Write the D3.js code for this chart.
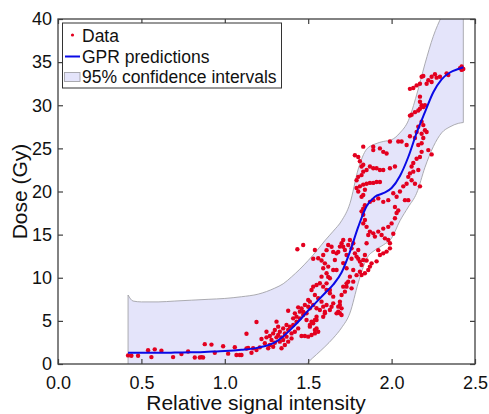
<!DOCTYPE html>
<html>
<head>
<meta charset="utf-8">
<script src="https://cdn.jsdelivr.net/npm/d3@7"></script>
<style>
	body { margin: 0; background: #fff; }
	svg { display: block; font-family: "Liberation Sans", Arial, Helvetica, sans-serif; }
</style>
</head>
<body>
<div id="svg_goes_here"></div>
<script>
//Grid the GPR fit is read on, with its mean and 95% limits
var grid_x = [0.42,0.45,0.5,0.6,0.7,0.8,0.9,1.0,1.1,1.2,1.3,1.35,1.4,1.45,1.5,1.55,1.6,1.65,1.7,1.75,1.8,1.85,1.9,1.95,2.0,2.05,2.1,2.15,2.2,2.25,2.3,2.35,2.4,2.43];
var gpr_mean = [1.3,1.3,1.3,1.3,1.32,1.35,1.42,1.5,1.65,1.9,2.5,3.2,4.1,5.1,6.2,7.2,8.2,9.2,10.6,13.0,15.9,18.3,19.4,19.8,20.4,21.8,24.0,26.8,29.2,31.5,33.0,33.8,34.2,34.4];
var ci_upper = [8.0,7.3,7.2,7.2,7.3,7.4,7.5,7.6,7.8,8.1,8.8,9.3,10.1,11.0,12.0,13.1,14.3,15.4,16.6,18.6,22.6,24.9,25.5,25.8,26.0,26.8,28.2,31.2,34.8,38.0,40.3,42.0,43.0,43.5];
var ci_lower = [-5.4,-4.7,-4.6,-4.6,-4.7,-4.7,-4.7,-4.6,-4.5,-4.3,-4.0,-3.3,-2.2,-1.0,0.2,1.1,2.0,3.0,4.2,5.9,9.4,12.2,13.2,13.8,14.6,16.6,18.2,19.8,22.8,25.2,26.8,27.5,27.9,28.0];

//Measured points: [relative signal intensity, dose]
var data_points = [
	[0.42,1.0],[0.44,0.95],[0.48,0.95],[0.54,1.6],[0.56,0.8],[0.58,1.7],[0.62,1.55],[0.69,0.8],[0.74,1.15],[0.78,1.45],
	[0.82,0.75],[0.85,0.75],[0.86,0.8],[0.87,0.75],[0.88,2.3],[0.92,2.25],[0.94,1.3],[0.99,2.05],[1.02,1.2],[1.06,1.95],
	[1.07,1.05],[1.09,1.05],[1.10,1.05],[1.13,3.5],[1.13,1.8],
	[1.14,1.85],[1.16,1.31],[1.17,1.82],[1.19,4.87],[1.19,1.62],[1.21,1.93],[1.22,2.9],[1.24,2.4],[1.25,3.74],[1.25,3.09],
	[1.26,1.82],[1.27,3.25],[1.27,2.2],[1.28,2.78],[1.29,2.0],[1.29,3.55],[1.30,2.47],[1.30,3.94],[1.31,3.09],[1.31,4.91],
	[1.32,4.33],[1.32,3.36],[1.33,2.59],[1.33,3.74],[1.34,3.09],[1.34,1.82],[1.35,4.13],[1.35,2.78],[1.36,3.55],[1.36,2.2],
	[1.37,4.52],[1.37,3.17],[1.38,3.94],[1.38,6.18],[1.38,2.59],[1.39,4.33],[1.40,3.55],[1.40,2.97],[1.41,5.29],[1.41,4.52],
	[1.42,3.74],[1.42,5.87],[1.43,4.91],[1.43,5.49],[1.44,6.57],[1.44,4.13],[1.45,6.07],[1.45,5.29],[1.46,3.25],[1.46,6.45],
	[1.47,5.68],[1.47,6.07],[1.48,3.25],[1.48,6.84],[1.49,5.1],[1.49,5.87],[1.50,7.42],[1.50,3.17],[1.51,6.45],
	[1.54,13.22],[1.56,12.26],[1.59,12.64],[1.60,11.67],[1.62,11.29],[1.61,10.52],[1.58,10.13],[1.63,9.94],[1.65,10.9],[1.66,12.06],
	[1.67,12.83],[1.69,13.61],[1.70,14.0],[1.71,14.38],[1.72,13.22],[1.73,12.64],[1.74,13.8],[1.75,14.38],[1.76,13.41],[1.77,14.0],
	[1.78,12.83],[1.79,12.45],[1.80,13.22],[1.81,11.87],[1.82,11.48],[1.83,12.06],[1.84,12.64],[1.85,14.0],[1.86,14.96],[1.87,15.35],
	[1.89,15.15],[1.90,14.77],[1.92,15.35],[1.94,14.96],[1.96,14.57],[1.98,14.38],[1.99,14.0],[1.99,13.41],[1.97,13.03],[1.95,12.83],
	[1.93,12.64],[1.88,11.67],[1.87,11.29],[1.86,10.9],[1.84,10.52],[1.82,10.32],[1.75,10.13],[1.74,9.55],[1.73,8.97],[1.72,8.39],
	[1.70,8.0],[1.69,7.23],[1.68,6.65],[1.69,5.88],[1.70,5.68],[1.65,7.81],[1.63,8.2],[1.61,8.58],[1.59,8.97],[1.57,9.36],
	[1.55,9.16],[1.53,8.97],[1.52,8.58],[1.54,8.0],[1.56,7.62],[1.58,7.23],[1.59,6.65],[1.61,6.84],[1.63,6.26],[1.60,6.07],
	[1.57,6.26],[1.55,6.46],[1.53,6.84],[1.51,7.23],[1.50,6.65],[1.51,4.33],[1.53,4.72],[1.55,5.1],[1.54,3.95],[1.52,3.37],
	[1.435,13.3],[1.47,13.8],
	[1.61,9.35],[1.63,8.58],[1.71,8.97],[1.73,9.35],[1.76,8.77],[1.77,9.55],[1.69,6.84],[1.70,6.45],[1.68,6.07],[1.67,5.87],
	[1.65,7.03],[1.64,6.64],[1.60,5.87],[1.59,5.48],[1.55,5.48],[1.54,5.10],[1.52,4.90],[1.51,4.52],[1.55,4.13],[1.56,3.74],[1.54,3.55],
	[1.53,12.2],[1.58,12.0],[1.61,13.2],[1.62,13.8],[1.64,13.6],[1.65,13.0],[1.68,13.0],[1.71,13.6],[1.76,12.2],[1.80,12.2],
	[1.85,12.0],[1.59,11.1],[1.62,10.1],[1.67,10.9],[1.71,11.7],[1.73,11.1],[1.77,10.9],[1.79,10.3],[1.81,10.7],[1.92,13.2],[1.91,11.9],
	[1.83,25.2],[1.89,25.2],[1.89,24.8],[1.93,25.0],[1.95,24.6],[1.97,24.4],[1.99,25.8],[2.04,25.8],[2.06,25.8],[2.09,25.4],
	[2.11,26.4],[2.14,26.2],[2.16,25.4],[2.18,25.6],[2.19,26.2],[2.21,26.9],[2.22,24.8],[2.24,24.3],[2.18,24.6],[2.17,24.0],
	[2.15,23.8],[2.13,23.3],[2.12,22.9],[2.16,22.5],[2.13,22.3],[2.11,22.1],[2.10,21.7],[2.12,21.3],[2.14,20.9],[2.17,20.6],
	[2.09,20.9],[2.07,20.6],[2.05,20.0],[2.08,19.0],[2.10,19.0],[2.03,19.4],[2.01,19.8],[1.98,19.0],[1.95,18.8],[1.92,19.2],
	[1.89,19.0],[1.87,18.8],[1.84,20.2],[1.83,19.6],[1.82,19.4],[1.80,20.0],[1.79,20.4],[1.81,20.6],[1.83,20.8],[1.85,20.9],
	[1.87,21.0],[1.89,21.0],[1.91,21.1],[1.93,21.1],[1.82,21.9],[1.80,21.7],[1.79,21.3],[1.83,22.3],[1.85,22.5],[1.87,22.9],
	[1.89,22.7],[1.91,22.7],[1.93,22.5],[1.95,22.5],[1.99,22.7],[2.02,22.9],[1.78,24.2],[1.80,24.0],[1.81,23.5],[1.82,22.9],
	[1.83,23.1],[1.84,18.4],[1.83,18.0],[1.82,17.7],[1.83,17.3],[1.84,16.7],[1.83,16.3],[1.85,15.9],[1.95,15.7],[1.98,15.9],
	[2.00,16.3],[2.02,16.9],[2.03,17.5],[2.04,17.8],[2.02,18.2],[2.01,15.1],
	[2.11,31.9],[2.13,32.0],[2.15,32.3],[2.17,32.5],[2.18,33.3],[2.19,33.4],[2.21,32.5],[2.22,32.9],[2.24,32.7],[2.24,33.3],
	[2.26,33.6],[2.27,33.2],[2.29,33.3],[2.33,33.7],[2.34,33.5],[2.41,34.3],[2.42,34.5],[2.43,34.2],[2.42,34.1],[2.17,31.0],
	[2.17,30.4],[2.18,30.0],[2.19,29.8],[2.20,30.0],[2.17,29.6],[2.16,29.4],[2.14,29.2],[2.12,28.9],[2.11,28.8],[2.18,28.1],
	[2.19,27.7],[2.20,27.1],[2.16,27.5],[2.15,26.9],[2.18,26.7]
];

var x_ticks = [0, 0.5, 1.0, 1.5, 2.0, 2.5];
var y_ticks = [0, 5, 10, 15, 20, 25, 30, 35, 40];
var legend_labels = ['Data', 'GPR predictions', '95% confidence intervals'];

var settings = {
	svg_width: 489,
	svg_height: 414,
	margin: {top: 19, right: 14, bottom: 50, left: 58},
	tick_length: 5,
	dot_colour: '#e3001f',
	line_colour: '#0a0ae6',
	band_colour: '#e4e4fa',
	band_stroke: '#a3a3a8',
	axis_colour: '#404040'
}
var plot_w = settings.svg_width - settings.margin.left - settings.margin.right;
var plot_h = settings.svg_height - settings.margin.top - settings.margin.bottom;

var svg = d3.select('#svg_goes_here')
	.append('svg')
	.attr('width', settings.svg_width)
	.attr('height', settings.svg_height);

var x = d3.scaleLinear().domain([0, 2.5]).range([0, plot_w]);
var y = d3.scaleLinear().domain([0, 40]).range([plot_h, 0]);

svg.append('defs').append('clipPath')
	.attr('id', 'plot_clip')
	.append('rect')
	.attr('width', plot_w)
	.attr('height', plot_h);

var g = svg.append('g')
	.attr('transform', 'translate(' + settings.margin.left + ',' + settings.margin.top + ')');

var fit_rows = grid_x.map(function(d, i){
	return {x: d, mean: gpr_mean[i], lo: ci_lower[i], hi: ci_upper[i]};
});

var plot_area = g.append('g').attr('clip-path', 'url(#plot_clip)');

//confidence band
plot_area.append('path')
	.datum(fit_rows)
	.attr('d', d3.area()
		.x(function(d){ return x(d.x); })
		.y0(function(d){ return y(d.lo); })
		.y1(function(d){ return y(d.hi); })
		.curve(d3.curveMonotoneX))
	.style('fill', settings.band_colour)
	.style('stroke', settings.band_stroke)
	.style('stroke-width', 0.9);

//measured points
plot_area.selectAll('.dot')
	.data(data_points)
	.enter()
	.append('circle')
	.attr('class', 'dot')
	.attr('cx', function(d){ return x(d[0]); })
	.attr('cy', function(d){ return y(d[1]); })
	.attr('r', 2.2)
	.style('fill', settings.dot_colour);

//GPR mean line
plot_area.append('path')
	.datum(fit_rows)
	.attr('d', d3.line()
		.x(function(d){ return x(d.x); })
		.y(function(d){ return y(d.mean); })
		.curve(d3.curveMonotoneX))
	.style('fill', 'none')
	.style('stroke', settings.line_colour)
	.style('stroke-width', 2);

//axes, ticks pointing inwards on all four sides
function style_axis(sel, show_labels){
	sel.select('.domain').remove();
	sel.selectAll('.tick line').style('stroke', settings.axis_colour).style('stroke-width', 1.2);
	sel.selectAll('.tick text')
		.style('font-size', '18px')
		.style('fill', '#111')
		.style('display', show_labels ? null : 'none');
}

g.append('g')
	.attr('transform', 'translate(0,' + plot_h + ')')
	.call(d3.axisBottom(x).tickValues(x_ticks).tickFormat(d3.format('.1f'))
		.tickSizeInner(-settings.tick_length).tickSizeOuter(0).tickPadding(12))
	.call(style_axis, true);

g.append('g')
	.call(d3.axisTop(x).tickValues(x_ticks).tickSizeInner(-settings.tick_length).tickSizeOuter(0))
	.call(style_axis, false);

g.append('g')
	.call(d3.axisLeft(y).tickValues(y_ticks).tickFormat(d3.format('d'))
		.tickSizeInner(-settings.tick_length).tickSizeOuter(0).tickPadding(6))
	.call(style_axis, true);

g.append('g')
	.attr('transform', 'translate(' + plot_w + ',0)')
	.call(d3.axisRight(y).tickValues(y_ticks).tickSizeInner(-settings.tick_length).tickSizeOuter(0))
	.call(style_axis, false);

g.append('rect')
	.attr('width', plot_w)
	.attr('height', plot_h)
	.style('fill', 'none')
	.style('stroke', settings.axis_colour)
	.style('stroke-width', 1.3);

//axis titles
svg.append('text')
	.attr('x', 256)
	.attr('y', 410)
	.attr('text-anchor', 'middle')
	.style('font-size', '21px')
	.style('fill', '#111')
	.text('Relative signal intensity');

svg.append('text')
	.attr('transform', 'translate(26.5,' + (settings.margin.top + plot_h / 2) + ') rotate(-90)')
	.attr('text-anchor', 'middle')
	.style('font-size', '21px')
	.style('fill', '#111')
	.text('Dose (Gy)');

//legend
var legend = svg.append('g').attr('transform', 'translate(62.5,23)');
legend.append('rect')
	.attr('width', 219)
	.attr('height', 65)
	.style('fill', '#fff')
	.style('stroke', '#333')
	.style('stroke-width', 1);

legend.append('circle')
	.attr('cx', 10)
	.attr('cy', 12)
	.attr('r', 1.6)
	.style('fill', settings.dot_colour);

legend.append('line')
	.attr('x1', 2.5).attr('x2', 17.5)
	.attr('y1', 33.5).attr('y2', 33.5)
	.style('stroke', settings.line_colour)
	.style('stroke-width', 2);

legend.append('rect')
	.attr('x', 2).attr('y', 49.5)
	.attr('width', 15.5).attr('height', 9)
	.style('fill', settings.band_colour)
	.style('stroke', settings.band_stroke)
	.style('stroke-width', 0.9);

legend.selectAll('.legend_label')
	.data(legend_labels)
	.enter()
	.append('text')
	.attr('class', 'legend_label')
	.attr('x', 19.5)
	.attr('y', function(d, i){ return 18.8 + i * 20.7; })
	.style('font-size', '17.5px')
	.style('fill', '#111')
	.text(function(d){ return d; });
</script>
</body>
</html>
